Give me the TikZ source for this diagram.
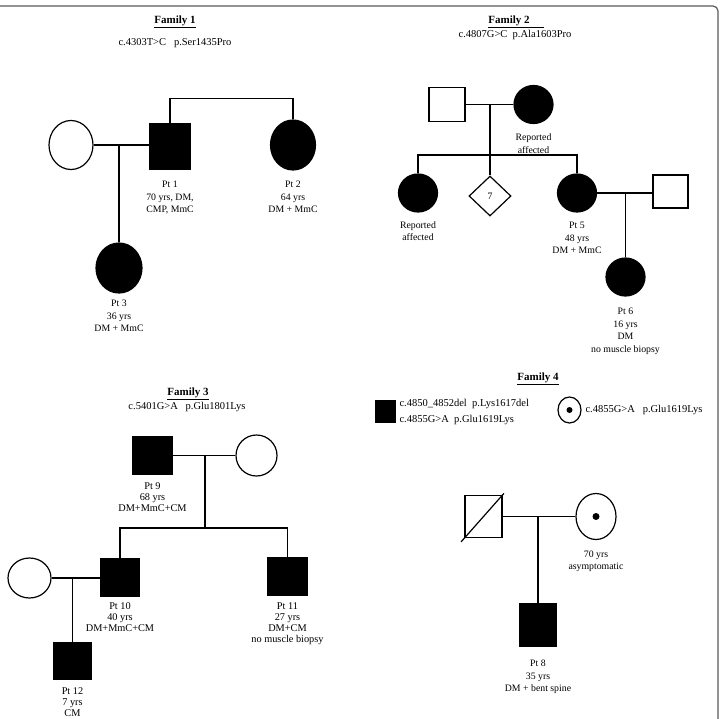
\documentclass[tikz,border=0pt]{standalone}
\usepackage{fontspec}
\setmainfont{Liberation Serif}
\usetikzlibrary{positioning,shapes.geometric}

\begin{document}
\begin{tikzpicture}[x=1pt, y=-1pt, line width=1.2pt, every node/.style={font=\fontsize{9.8}{12.5}\selectfont}, male/.style={draw, rectangle, inner sep=0, minimum width=39, minimum height=38}, female/.style={draw, ellipse, inner sep=0, minimum width=40, minimum height=40}, sz/.style 2 args={minimum width=#1, minimum height=#2}, aff/.style={fill=black}, lbl/.style={align=center, inner sep=0}, title/.style={font=\fontsize{11}{13}\selectfont\bfseries}, mut/.style={font=\fontsize{10.5}{13}\selectfont}, dot/.style={circle, fill=black, inner sep=0, minimum size=7}]
\useasboundingbox (0,0) rectangle (720,718);
\draw[gray!70!black, rounded corners=5pt] (-10,6) -- (718,6) -- (718,730);
\node[title] (t1) at (175,22) {\underline{Family 1}};
\node[mut] (v1) at (175,43) {c.4303T>C\ \ \ p.Ser1435Pro};
\node[female, sz={44}{49}] (f1w) at (71,145) {};
\node[male, aff, sz={41}{45}] (pt1) at (170,146.5) {};
\node[female, aff, sz={45}{50}] (pt2) at (293,145) {};
\node[female, aff, sz={46}{50}] (pt3) at (119,268) {};
\coordinate (m1) at (119,145);
\draw (f1w.east) -- (pt1.west |- f1w.east);
\draw (m1) -- (pt3.north);
\draw (pt1.north) -- ++(0,-25) -| (pt2.north);
\node[lbl, below=11pt of pt1] (pt1l) {Pt 1\\70 yrs, DM,\\CMP, MmC};
\node[lbl, below=10pt of pt2] (pt2l) {Pt 2\\64 yrs\\DM + MmC};
\node[lbl, below=6pt of pt3] (pt3l) {Pt 3\\36 yrs\\DM + MmC};
\node[title] (t2) at (516,22) {\underline{Family 2\hspace{14pt}}};
\node[mut] (v2) at (515,35) {c.4807G>C\ \ p.Ala1603Pro};
\node[male, sz={36}{34}] (f2f) at (447,104.5) {};
\node[female, aff, sz={39}{38}] (f2m) at (533.5,104.5) {};
\node[female, aff, sz={39}{38}] (c21) at (418,193) {};
\node[diamond, draw, inner sep=0, minimum width=42, minimum height=40] (c22) at (490,196) {7};
\node[female, aff, sz={39}{38}] (pt5) at (577,193) {};
\node[male, sz={35}{33}] (f2s) at (670.5,191.5) {};
\node[female, aff, sz={39}{38}] (pt6) at (625.5,277) {};
\coordinate (m2) at (490,104.5);
\coordinate (s2) at (490,155);
\coordinate (m5) at (625.5,193);
\draw (f2f) -- (f2m);
\draw (m2) -- (s2) -- (c22.north);
\draw (c21.north) |- (s2) -| (pt5.north);
\draw (pt5) -- (f2s.west |- pt5);
\draw (m5) -- (pt6.north);
\node[lbl, below=9pt of f2m] (f2ml) {Reported\\affected};
\node[lbl, below=8pt of c21] (c21l) {Reported\\affected};
\node[lbl, below=9pt of pt5] (pt5l) {Pt 5\\48 yrs\\DM + MmC};
\node[lbl, below=11pt of pt6] (pt6l) {Pt 6\\16 yrs\\DM\\no muscle biopsy};
\node[title] (t3) at (188,394) {\underline{Family 3}};
\node[mut] (v3) at (187,407) {c.5401G>A\ \ \ p.Glu1801Lys};
\node[male, aff, sz={39}{37}] (pt9) at (152.5,455.5) {};
\node[female, sz={41}{41}] (f3w) at (256.5,455.5) {};
\node[male, aff, sz={38}{37}] (pt10) at (120,577.5) {};
\node[male, aff, sz={39}{37}] (pt11) at (287.5,576.5) {};
\node[female, sz={43}{40}] (f3w2) at (29.5,578) {};
\node[male, aff, sz={38}{36}] (pt12) at (72.5,661) {};
\coordinate (m9) at (205,455.5);
\coordinate (s9) at (205,528);
\coordinate (m10) at (72.5,578);
\draw (pt9) -- (f3w);
\draw (m9) -- (s9);
\draw (pt10.north) |- (s9) -| (pt11.north);
\draw (f3w2.east) -- (pt10.west |- f3w2.east);
\draw (m10) -- (pt12.north);
\node[lbl, font=\fontsize{10.3}{11.3}\selectfont, below=7pt of pt9] (pt9l) {Pt 9\\68 yrs\\DM+MmC+CM};
\node[lbl, font=\fontsize{10.3}{11.3}\selectfont, below=5pt of pt10] (pt10l) {Pt 10\\40 yrs\\DM+MmC+CM};
\node[lbl, font=\fontsize{10.3}{11.3}\selectfont, below=6pt of pt11] (pt11l) {Pt 11\\27 yrs\\DM+CM\\no muscle biopsy};
\node[lbl, font=\fontsize{10.3}{11.3}\selectfont, below=7pt of pt12] (pt12l) {Pt 12\\7 yrs\\CM};
\node[title] (t4) at (538,379) {\underline{Family 4}};
\node[male, aff, sz={19}{21}] (k1) at (385.5,411.5) {};
\node[mut, anchor=west, align=left, font=\fontsize{10.5}{16}\selectfont] (k1l) at (k1.east) {c.4850\_4852del\ \ p.Lys1617del\\c.4855G>A\ \ p.Glu1619Lys};
\node[female, sz={23}{26}] (k2) at (569.5,410) {};
\node[dot, minimum size=6] (k2d) at (k2) {};
\node[mut, anchor=west] (k2l) at (k2.east) {c.4855G>A\ \ \ p.Glu1619Lys};
\node[male, sz={37}{42}] (f4f) at (483.5,516.5) {};
\node[female, sz={40}{46}] (f4m) at (596,516.5) {};
\node[dot] (f4d) at (f4m) {};
\node[male, aff, sz={37}{42}] (pt8) at (538,625) {};
\coordinate (m4) at (538,516.5);
\draw[shorten <=-5pt, shorten >=-2pt] (f4f.south west) -- (f4f.north east);
\draw (f4f) -- (f4m);
\draw (m4) -- (pt8.north);
\node[lbl, below=10pt of f4m] (f4ml) {70 yrs\\asymptomatic};
\node[lbl, below=13pt of pt8] (pt8l) {Pt 8\\35 yrs\\DM + bent spine};
\end{tikzpicture}
\end{document}
